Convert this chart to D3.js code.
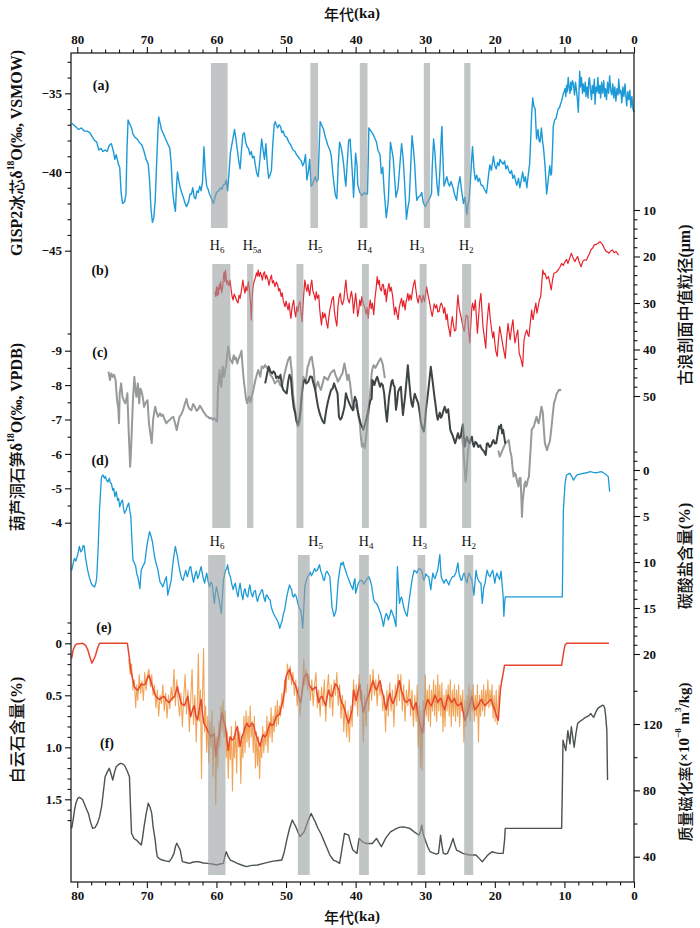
<!DOCTYPE html>
<html>
<head>
<meta charset="utf-8">
<script src="https://cdn.jsdelivr.net/npm/d3@7.9.0/dist/d3.min.js"></script>
<style>
  body { margin: 0; background: #fff; }
  svg text { fill: #111; }
</style>
</head>
<body>
<script>
// ---- data (age in ka, value) ----
const gisp2 = [
[80.8,-36.9],[80.3,-37.1],[79.8,-37.3],[79.4,-37.2],[79.0,-37.4],[78.6,-37.4],[78.2,-37.5],[77.8,-37.8],[77.5,-38.0],[77.2,-38.1],[76.9,-38.6],[76.6,-38.5],[76.3,-38.7],[76.0,-38.6],[75.7,-38.7],[75.4,-38.3],[75.1,-38.2],[74.8,-38.7],[74.6,-39.2],[74.4,-38.9],[74.1,-39.5],[73.9,-39.7],[73.7,-41.3],[73.5,-42.0],[73.2,-41.9],[73.0,-41.4],[72.85,-38.5],[72.7,-36.7],[72.5,-36.9],[72.2,-37.2],[72.0,-37.6],[71.7,-37.8],[71.4,-37.9],[71.1,-38.1],[70.7,-38.3],[70.4,-38.7],[70.1,-39.2],[69.8,-39.5],[69.6,-40.6],[69.4,-42.4],[69.2,-43.2],[69.0,-42.9],[68.8,-41.8],[68.6,-39.5],[68.4,-37.3],[68.3,-36.5],[68.1,-36.9],[67.9,-37.3],[67.6,-37.6],[67.3,-37.9],[67.0,-38.2],[66.7,-38.5],[66.5,-39.5],[66.3,-41.2],[66.1,-42.0],[65.9,-42.5],[65.7,-40.6],[65.6,-40.0],[65.4,-40.6],[65.2,-41.0],[65.0,-41.3],[64.7,-41.7],[64.5,-42.0],[64.3,-42.2],[64.0,-41.9],[63.8,-41.4],[63.6,-41.4],[63.4,-41.0],[63.2,-41.6],[63.0,-41.7],[62.8,-41.2],[62.6,-41.3],[62.4,-40.9],[62.2,-41.2],[62.0,-40.6],[61.8,-38.4],[61.6,-40.0],[61.4,-40.9],[61.2,-41.1],[61.0,-41.4],[60.7,-41.7],[60.45,-42.0],[60.2,-41.6],[60.0,-41.3],[59.7,-41.2],[59.4,-41.0],[59.2,-41.1],[59.0,-40.8],[58.8,-40.8],[58.6,-40.5],[58.4,-41.2],[58.2,-40.1],[58.0,-38.8],[57.8,-38.3],[57.6,-37.8],[57.4,-37.3],[57.2,-37.9],[57.0,-38.6],[56.8,-39.3],[56.6,-39.8],[56.4,-38.6],[56.2,-37.6],[56.0,-37.5],[55.8,-38.1],[55.6,-38.4],[55.4,-38.5],[55.2,-38.9],[55.0,-38.7],[54.8,-39.1],[54.6,-39.0],[54.4,-39.6],[54.2,-40.1],[54.0,-40.3],[53.8,-39.4],[53.6,-38.4],[53.5,-37.9],[53.3,-38.6],[53.1,-39.2],[52.9,-38.2],[52.7,-39.5],[52.5,-40.4],[52.3,-40.2],[52.1,-39.9],[51.9,-38.2],[51.7,-37.0],[51.55,-36.8],[51.4,-37.0],[51.2,-37.2],[51.0,-37.0],[50.8,-37.1],[50.6,-37.5],[50.4,-37.4],[50.2,-37.7],[49.9,-37.8],[49.6,-38.1],[49.3,-38.3],[49.0,-38.6],[48.7,-38.7],[48.5,-38.9],[48.3,-39.0],[48.0,-39.2],[47.8,-39.3],[47.6,-39.6],[47.4,-39.4],[47.2,-38.9],[47.0,-40.5],[46.8,-40.0],[46.6,-39.2],[46.4,-40.9],[46.2,-40.8],[46.0,-40.5],[45.8,-40.3],[45.6,-40.6],[45.4,-40.5],[45.2,-38.0],[45.1,-36.8],[44.9,-37.0],[44.6,-37.3],[44.4,-37.7],[44.2,-38.0],[44.0,-38.3],[43.7,-38.6],[43.5,-39.0],[43.3,-40.0],[43.1,-40.8],[42.9,-41.5],[42.7,-41.7],[42.5,-39.5],[42.3,-38.1],[42.1,-38.4],[41.9,-38.9],[41.7,-39.6],[41.5,-40.6],[41.4,-40.9],[41.2,-39.4],[41.0,-38.0],[40.8,-37.9],[40.6,-39.2],[40.4,-40.6],[40.3,-41.6],[40.1,-39.8],[40.0,-38.8],[39.8,-39.6],[39.7,-40.8],[39.4,-41.3],[39.1,-41.5],[38.9,-41.4],[38.7,-41.3],[38.5,-41.4],[38.3,-41.4],[38.2,-39.5],[38.1,-37.2],[37.8,-37.4],[37.5,-37.6],[37.2,-37.9],[37.0,-38.1],[36.8,-38.6],[36.5,-38.9],[36.3,-40.1],[36.1,-39.7],[35.9,-41.2],[35.7,-42.3],[35.6,-42.9],[35.4,-42.2],[35.3,-41.8],[35.1,-39.5],[35.0,-38.1],[34.8,-38.6],[34.6,-39.1],[34.4,-40.4],[34.2,-41.6],[34.0,-41.2],[33.9,-41.0],[33.6,-39.3],[33.4,-38.2],[33.2,-39.0],[33.0,-40.4],[32.8,-42.1],[32.7,-43.0],[32.5,-42.3],[32.3,-41.8],[32.1,-39.8],[31.9,-37.7],[31.7,-38.5],[31.5,-39.6],[31.3,-41.3],[31.2,-41.8],[31.0,-41.6],[30.7,-41.5],[30.5,-41.3],[30.3,-41.9],[30.0,-42.2],[29.8,-42.0],[29.5,-41.8],[29.3,-41.6],[29.1,-41.4],[29.0,-39.8],[28.8,-37.9],[28.6,-38.8],[28.5,-39.6],[28.3,-40.8],[28.1,-41.5],[27.9,-40.0],[27.7,-37.8],[27.6,-37.1],[27.5,-38.6],[27.3,-40.9],[27.1,-40.6],[26.9,-40.3],[26.7,-40.7],[26.5,-40.9],[26.3,-40.6],[26.0,-41.0],[25.8,-41.4],[25.5,-41.8],[25.3,-41.0],[25.0,-40.3],[24.8,-41.1],[24.5,-42.0],[24.3,-41.6],[24.0,-42.7],[23.85,-42.0],[23.7,-41.8],[23.5,-40.5],[23.3,-39.0],[23.2,-38.4],[23.0,-39.8],[22.8,-40.5],[22.6,-40.2],[22.4,-40.6],[22.2,-40.4],[22.0,-40.8],[21.7,-40.9],[21.5,-41.1],[21.2,-41.35],[21.0,-40.6],[20.8,-39.8],[20.7,-39.55],[20.5,-39.9],[20.3,-39.3],[20.2,-39.0],[20.0,-39.6],[19.8,-39.8],[19.6,-39.4],[19.4,-39.6],[19.25,-39.2],[19.0,-39.4],[18.8,-39.5],[18.6,-39.3],[18.4,-39.8],[18.2,-39.6],[18.0,-39.9],[17.8,-40.1],[17.6,-39.9],[17.4,-40.4],[17.2,-40.2],[17.0,-40.6],[16.85,-40.85],[16.6,-40.4],[16.4,-41.0],[16.2,-40.5],[16.0,-40.0],[15.8,-40.6],[15.6,-40.3],[15.4,-41.0],[15.2,-40.2],[15.0,-39.5],[14.85,-38.0],[14.7,-36.3],[14.55,-35.3],[14.4,-35.8],[14.2,-36.0],[14.1,-37.0],[14.0,-37.9],[13.8,-37.3],[13.65,-38.0],[13.5,-38.1],[13.3,-37.2],[13.15,-38.0],[13.0,-38.5],[12.8,-39.5],[12.65,-40.6],[12.55,-41.4],[12.4,-40.8],[12.3,-40.4],[12.1,-39.6],[11.95,-40.2],[11.85,-40.1],[11.7,-38.5],[11.6,-37.1],[11.4,-36.7],[11.2,-36.6],[11.0,-36.2],[10.9,-36.0],[10.7,-35.9],[10.5,-35.6],[10.4,-35.5],[10.2,-35.1],[10.05,-34.9],[9.9,-34.7],[9.8,-35.2],[9.7,-34.5],[9.6,-34.9],[9.45,-34.0],[9.35,-34.6],[9.2,-35.0],[9.1,-34.3],[9.0,-34.8],[8.85,-34.2],[8.7,-34.4],[8.55,-35.1],[8.4,-34.3],[8.3,-34.7],[8.15,-35.3],[8.0,-36.2],[7.9,-34.9],[7.8,-33.6],[7.7,-34.6],[7.55,-34.0],[7.4,-35.0],[7.3,-34.4],[7.15,-34.9],[7.0,-34.3],[6.9,-35.2],[6.75,-34.6],[6.6,-35.3],[6.5,-34.2],[6.4,-34.0],[6.25,-34.8],[6.1,-35.4],[6.0,-34.5],[5.85,-35.0],[5.7,-34.1],[5.6,-35.7],[5.45,-34.6],[5.3,-34.9],[5.2,-34.0],[5.05,-35.0],[4.9,-34.5],[4.8,-35.3],[4.65,-34.3],[4.5,-35.0],[4.35,-34.2],[4.2,-35.2],[4.1,-34.7],[3.95,-35.4],[3.8,-34.3],[3.65,-35.0],[3.5,-33.9],[3.35,-34.8],[3.2,-35.1],[3.05,-34.4],[2.9,-35.3],[2.75,-34.6],[2.6,-35.5],[2.45,-34.7],[2.3,-35.1],[2.2,-34.1],[2.05,-35.0],[1.9,-34.8],[1.75,-35.6],[1.6,-34.6],[1.45,-35.2],[1.3,-34.4],[1.2,-35.0],[1.05,-35.8],[0.9,-34.9],[0.75,-35.4],[0.6,-34.8],[0.45,-35.9],[0.3,-35.2],[0.15,-36.0],[0.0,-36.2]
];

const gulang = [
[60.2,27.5],[60.1,28.6],[60.0,26.5],[59.9,28.4],[59.8,26.7],[59.7,28.2],[59.6,26.0],[59.5,27.0],[59.4,25.4],[59.25,27.8],[59.1,26.5],[59.0,24.5],[58.9,23.3],[58.8,25.4],[58.7,23.0],[58.6,24.6],[58.5,26.0],[58.4,25.2],[58.2,26.3],[58.05,25.05],[57.9,27.0],[57.75,28.6],[57.6,29.35],[57.45,28.1],[57.3,28.6],[57.1,29.5],[56.9,30.0],[56.75,28.3],[56.6,29.0],[56.4,27.2],[56.2,25.05],[56.05,26.8],[55.9,27.9],[55.75,26.4],[55.6,27.4],[55.4,25.4],[55.25,27.5],[55.1,30.0],[55.0,33.65],[54.9,29.8],[54.8,27.3],[54.7,26.1],[54.55,25.2],[54.4,24.6],[54.25,23.5],[54.1,24.2],[54.0,22.9],[53.85,24.3],[53.7,23.4],[53.55,24.0],[53.4,25.1],[53.25,23.7],[53.1,23.3],[52.95,24.8],[52.8,24.0],[52.6,25.05],[52.45,26.2],[52.3,25.0],[52.1,24.0],[51.95,25.7],[51.8,25.2],[51.6,26.5],[51.4,25.5],[51.2,26.1],[51.05,27.4],[50.9,26.9],[50.7,28.6],[50.55,27.8],[50.4,29.5],[50.15,30.8],[50.0,29.6],[49.85,30.6],[49.7,31.5],[49.55,30.0],[49.4,32.2],[49.3,33.3],[49.1,30.6],[48.9,29.4],[48.75,31.8],[48.6,33.0],[48.45,30.8],[48.3,31.9],[48.15,30.2],[48.0,29.7],[47.85,32.0],[47.7,34.0],[47.5,29.0],[47.3,25.05],[47.15,26.6],[47.0,27.5],[46.85,26.0],[46.75,27.2],[46.6,28.4],[46.45,26.3],[46.3,25.05],[46.15,27.4],[46.0,28.0],[45.8,29.35],[45.65,27.6],[45.5,29.0],[45.3,28.3],[45.15,31.5],[45.05,33.0],[44.9,34.7],[44.75,32.0],[44.6,33.2],[44.4,32.2],[44.2,34.0],[44.0,35.4],[43.85,33.0],[43.7,31.5],[43.55,30.4],[43.4,29.2],[43.2,28.6],[43.05,31.8],[42.9,33.4],[42.7,35.0],[42.55,31.0],[42.4,28.9],[42.2,27.9],[42.05,29.8],[41.9,30.4],[41.7,29.35],[41.55,27.0],[41.4,25.05],[41.25,27.8],[41.1,29.2],[40.9,30.0],[40.75,28.6],[40.6,27.5],[40.45,29.0],[40.3,32.2],[40.15,30.0],[40.0,27.9],[39.85,30.2],[39.7,32.9],[39.55,31.5],[39.4,29.35],[39.25,30.6],[39.1,28.6],[38.9,30.2],[38.7,30.8],[38.5,32.4],[38.35,31.0],[38.2,33.3],[38.05,31.0],[37.9,29.35],[37.75,31.2],[37.6,30.0],[37.4,32.5],[37.2,28.7],[37.05,26.8],[36.9,24.3],[36.75,26.0],[36.6,25.1],[36.5,26.8],[36.3,27.4],[36.15,26.0],[36.0,26.1],[35.85,28.2],[35.7,27.0],[35.6,29.7],[35.45,28.0],[35.3,26.4],[35.2,25.8],[35.05,27.5],[34.9,26.6],[34.7,28.3],[34.55,30.4],[34.4,32.5],[34.25,30.9],[34.1,32.0],[33.9,33.6],[33.75,31.2],[33.6,30.1],[33.4,29.0],[33.25,30.8],[33.1,29.5],[32.9,31.5],[32.75,29.7],[32.6,28.8],[32.5,27.9],[32.35,29.5],[32.2,28.2],[32.0,29.35],[31.85,27.5],[31.7,26.2],[31.5,25.05],[31.35,27.0],[31.2,28.8],[31.0,30.0],[30.85,28.4],[30.7,28.6],[30.5,29.9],[30.3,28.3],[30.1,29.7],[29.95,28.0],[29.8,26.5],[29.6,28.3],[29.4,29.7],[29.2,31.4],[29.0,32.9],[28.85,31.6],[28.7,30.2],[28.5,31.1],[28.35,30.4],[28.2,31.9],[28.0,31.8],[27.85,30.6],[27.7,30.0],[27.5,30.8],[27.35,32.2],[27.2,31.0],[27.0,33.6],[26.85,32.4],[26.7,34.8],[26.55,35.9],[26.4,37.2],[26.25,34.5],[26.1,32.9],[25.95,34.6],[25.8,36.0],[25.6,35.8],[25.45,31.4],[25.3,28.3],[25.15,30.7],[25.0,32.0],[24.8,33.3],[24.6,35.0],[24.4,36.1],[24.25,34.0],[24.1,32.6],[23.9,32.9],[23.75,36.0],[23.6,38.6],[23.45,34.5],[23.3,31.0],[23.2,30.0],[23.0,31.6],[22.8,29.35],[22.65,33.0],[22.5,36.5],[22.35,33.4],[22.2,30.2],[22.0,27.9],[21.85,31.5],[21.7,35.1],[21.5,37.4],[21.3,39.7],[21.15,35.0],[21.0,32.2],[20.85,30.0],[20.65,33.5],[20.45,35.8],[20.3,37.5],[20.15,36.2],[20.0,38.6],[19.85,40.4],[19.65,41.5],[19.5,38.3],[19.3,35.1],[19.1,36.8],[18.9,38.6],[18.7,40.3],[18.5,41.9],[18.3,37.6],[18.1,34.4],[17.95,36.2],[17.8,37.9],[17.6,35.4],[17.4,33.6],[17.25,36.4],[17.1,38.6],[16.9,37.0],[16.7,35.8],[16.6,38.4],[16.5,40.8],[16.25,42.0],[16.0,43.7],[15.9,40.5],[15.8,37.9],[15.6,36.6],[15.4,35.8],[15.25,36.8],[15.1,37.2],[14.9,34.2],[14.7,31.5],[14.6,32.8],[14.5,33.6],[14.3,31.6],[14.1,30.0],[13.95,32.2],[13.8,31.1],[13.6,29.4],[13.4,28.6],[13.25,25.6],[13.1,22.9],[12.95,23.8],[12.8,23.6],[12.55,24.8],[12.3,24.3],[12.1,25.6],[11.9,27.2],[11.7,25.0],[11.5,23.6],[11.2,23.4],[10.9,22.9],[10.65,22.3],[10.4,21.5],[10.15,21.9],[9.9,21.1],[9.7,20.6],[9.5,21.5],[9.25,20.4],[9.0,19.3],[8.75,20.3],[8.5,21.1],[8.3,20.5],[8.1,20.0],[7.85,21.3],[7.6,22.2],[7.35,21.0],[7.1,20.7],[6.85,20.8],[6.6,20.0],[6.4,19.4],[6.2,18.6],[5.95,18.2],[5.7,17.5],[5.45,17.4],[5.2,17.2],[4.9,16.8],[4.7,17.1],[4.5,17.5],[4.25,18.3],[4.0,18.9],[3.8,19.0],[3.6,19.3],[3.35,18.8],[3.1,18.6],[2.85,19.2],[2.6,18.9],[2.4,19.3],[2.2,19.7]
];

// Hulu cave stalagmite, lighter record (null = gap)
const huluLight = [
[75.5,-8.39],[75.3,-8.15],[75.1,-8.34],[74.9,-8.24],[74.7,-8.3],[74.5,-8.15],[74.3,-7.6],[74.1,-7.3],[74.0,-6.89],[73.9,-7.76],[73.7,-8.05],[73.5,-7.66],[73.3,-7.55],[73.1,-7.47],[72.95,-7.6],[72.8,-7.76],[72.6,-6.6],[72.4,-5.63],[72.3,-6.0],[72.2,-6.5],[72.0,-7.56],[71.8,-8.24],[71.65,-7.9],[71.5,-7.66],[71.3,-8.05],[71.1,-7.47],[70.95,-7.9],[70.8,-7.85],[70.6,-7.66],[70.4,-7.37],[70.15,-7.5],[69.9,-7.56],[69.7,-6.89],[69.5,-6.6],[69.3,-6.31],[69.1,-6.99],[68.95,-7.2],[68.8,-7.37],[68.6,-7.2],[68.4,-7.08],[68.1,-7.18],[67.9,-7.1],[67.7,-7.14],[67.45,-7.0],[67.2,-6.89],[66.95,-6.95],[66.7,-6.99],[66.45,-7.05],[66.2,-7.08],[65.95,-6.9],[65.7,-6.69],[65.5,-6.9],[65.3,-7.08],[65.05,-7.15],[64.8,-7.27],[64.55,-7.45],[64.3,-7.6],[64.1,-7.4],[63.85,-7.3],[63.6,-7.27],[63.35,-7.45],[63.1,-7.37],[62.85,-7.25],[62.6,-7.3],[62.4,-7.4],[62.2,-7.35],[61.95,-7.25],[61.7,-7.18],[61.45,-7.1],[61.2,-7.08],[61.0,-7.03],[60.8,-7.05],[60.55,-7.0],[60.3,-7.04],[60.1,-6.98],[59.9,-6.94],[59.8,-7.76],[59.7,-8.1],[59.55,-8.44],[59.45,-8.1],[59.3,-7.95],[59.2,-8.3],[59.1,-8.54],[59.0,-8.4],[58.9,-8.24],[58.75,-8.45],[58.6,-8.58],[58.45,-8.9],[58.3,-9.12],[58.15,-8.9],[58.0,-8.73],[57.85,-8.7],[57.7,-8.63],[57.6,-8.8],[57.5,-8.87],[57.35,-8.75],[57.2,-8.8],[57.1,-8.7],[57.0,-8.63],[56.85,-8.75],[56.7,-8.82],[56.55,-8.9],[56.4,-9.0],[56.3,-8.7],[56.2,-8.44],[56.05,-8.1],[55.9,-7.86],[55.75,-7.6],[55.6,-7.47],[55.45,-7.6],[55.3,-7.66],[55.2,-7.55],[55.1,-7.5],[54.9,-7.7],[54.7,-7.86],[54.55,-8.0],[54.4,-8.15],[54.2,-8.3],[54.0,-8.44],[53.85,-8.35],[53.7,-8.24],[53.5,-8.54],[53.25,-8.5],[53.0,-8.58],[52.75,-8.5],[52.5,-8.44],[52.25,-8.3],[52.0,-8.24],[51.8,-8.15],[51.6,-8.05],[51.35,-8.1],[51.1,-8.15],[50.85,-8.0],[50.6,-7.95],[50.4,-8.15],[50.2,-8.34],[49.95,-8.55],[49.7,-8.73],[49.55,-8.8],[49.4,-8.82],[49.3,-8.6],[49.2,-8.44],[49.1,-8.1],[49.0,-7.76],[48.85,-7.5],[48.7,-7.27],[48.5,-7.0],[48.3,-6.79],[48.15,-6.85],[48.0,-6.99],[47.9,-7.3],[47.8,-7.56],[47.65,-7.9],[47.5,-8.24],[47.35,-8.15],[47.2,-8.05],[47.05,-8.3],[46.9,-8.54],[46.75,-8.6],[46.6,-8.73],[46.45,-8.8],[46.3,-8.82],[46.15,-8.6],[46.0,-8.44],[45.9,-8.1],[45.8,-7.86],[45.6,-8.0],[45.4,-8.1],[45.2,-7.95],[45.0,-7.86],[44.75,-8.05],[44.5,-8.24],[44.25,-8.2],[44.0,-8.15],[43.8,-8.25],[43.6,-8.34],[43.35,-8.4],[43.1,-8.44],[42.9,-8.3],[42.7,-8.2],[42.55,-8.1],[42.4,-8.15],[42.15,-8.25],[41.9,-8.34],[41.75,-8.5],[41.6,-8.63],[41.4,-8.4],[41.2,-8.15],[41.0,-8.3],[40.8,-8.05],[40.55,-7.6],[40.3,-7.28],[40.05,-7.4],[39.8,-7.47],[39.6,-7.1],[39.4,-6.89],[39.25,-6.5],[39.1,-6.21],[38.9,-6.3],[38.7,-6.17],[38.55,-6.4],[38.4,-6.7],[38.25,-7.0],[38.1,-7.28],[37.9,-7.8],[37.7,-8.34],[37.55,-8.5],[37.4,-8.58],[37.15,-8.5],[36.9,-8.6],[36.65,-8.7],[36.4,-8.78],[36.25,-8.7],[36.1,-8.6],[35.95,-8.4],[35.8,-8.2],
[35.7,null],
[24.9,-6.6],[24.7,-6.5],[24.5,-6.1],[24.35,-5.6],[24.2,-5.19],[24.05,-5.5],[23.9,-6.0],[23.7,-6.35],
[23.6,null],
[19.5,-6.1],[19.3,-5.92],[19.1,-6.0],[18.9,-6.11],[18.7,-6.2],[18.5,-6.3],[18.25,-6.35],[18.0,-6.4],[17.8,-6.1],[17.6,-5.92],[17.45,-5.6],[17.3,-5.34],[17.15,-5.45],[17.0,-5.4],[16.8,-5.2],[16.6,-5.05],[16.45,-5.3],[16.3,-5.3],[16.2,-4.8],[16.1,-4.17],[16.0,-4.6],[15.9,-4.8],[15.75,-5.1],[15.6,-5.2],[15.5,-5.05],[15.4,-5.1],[15.25,-5.25],[15.1,-5.34],[14.9,-6.0],[14.7,-6.7],[14.55,-6.75],[14.4,-6.79],[14.2,-6.95],[14.0,-7.08],[13.85,-6.95],[13.7,-6.89],[13.5,-7.1],[13.3,-7.37],[13.1,-7.2],[12.95,-6.7],[12.8,-6.31],[12.65,-6.2],[12.5,-6.11],[12.3,-6.25],[12.1,-6.36],[11.95,-6.6],[11.8,-6.89],[11.65,-7.2],[11.5,-7.47],[11.3,-7.6],[11.1,-7.76],[10.95,-7.8],[10.8,-7.86],[10.65,-7.85],[10.5,-7.88]
];

// Hulu cave stalagmite, darker record
const huluDark = [
[53.0,-8.05],[52.75,-8.3],[52.5,-8.54],[52.25,-8.4],[52.0,-8.34],[51.8,-8.4],[51.6,-8.35],[51.4,-8.2],[51.2,-8.25],[51.0,-8.2],[50.8,-8.3],[50.6,-8.0],[50.4,-7.86],[50.15,-7.8],[49.9,-7.76],[49.7,-8.1],[49.5,-8.3],[49.3,-8.2],[49.1,-7.7],[48.9,-7.35],[48.7,-7.2],[48.5,-6.95],[48.3,-6.85],[48.1,-7.0],[47.9,-7.3],[47.7,-7.8],[47.5,-8.1],[47.3,-8.15],[47.05,-8.05],[46.8,-8.1],[46.55,-8.25],[46.3,-8.24],[46.05,-8.05],[45.8,-7.86],[45.6,-7.6],[45.4,-7.37],[45.2,-7.2],[45.0,-7.08],[44.75,-6.95],[44.5,-6.89],[44.35,-7.1],[44.2,-7.3],[44.0,-7.5],[43.8,-7.66],[43.55,-7.85],[43.3,-7.9],[43.1,-8.05],[42.85,-7.9],[42.6,-7.76],[42.4,-7.08],[42.2,-7.0],[42.0,-7.05],[41.8,-7.2],[41.6,-7.37],[41.4,-7.76],[41.15,-7.6],[40.9,-7.47],[40.65,-7.35],[40.4,-7.27],[40.25,-7.5],[40.1,-7.66],[39.9,-7.55],[39.75,-7.3],[39.55,-7.1],[39.3,-6.89],[39.1,-6.8],[38.9,-6.7],[38.75,-6.8],[38.6,-6.9],[38.35,-7.1],[38.1,-7.37],[37.9,-7.55],[37.7,-7.6],[37.6,-8.15],[37.45,-8.1],[37.3,-8.0],[37.1,-8.15],[36.9,-8.24],[36.7,-8.1],[36.5,-7.95],[36.3,-8.05],[36.1,-8.0],[35.9,-7.76],[35.7,-7.3],[35.5,-6.94],[35.35,-7.3],[35.2,-7.66],[35.0,-7.9],[34.85,-8.1],[34.7,-8.15],[34.55,-8.0],[34.4,-7.95],[34.2,-7.28],[34.05,-7.5],[33.9,-7.8],[33.7,-7.9],[33.5,-7.95],[33.35,-7.5],[33.2,-7.13],[33.05,-7.4],[32.9,-7.66],[32.7,-8.1],[32.5,-8.58],[32.3,-8.1],[32.1,-7.66],[31.95,-7.45],[31.8,-7.37],[31.65,-7.6],[31.5,-7.75],[31.25,-7.6],[31.0,-7.47],[30.8,-7.2],[30.6,-6.89],[30.4,-6.75],[30.2,-6.65],[30.05,-6.9],[29.9,-7.28],[29.7,-7.6],[29.5,-7.95],[29.35,-8.25],[29.2,-8.53],[29.05,-8.3],[28.9,-8.05],[28.7,-7.7],[28.5,-7.4],[28.35,-7.15],[28.2,-6.99],[28.05,-7.1],[27.9,-7.2],[27.75,-7.05],[27.6,-7.1],[27.4,-7.25],[27.2,-7.37],[26.95,-7.2],[26.7,-7.3],[26.55,-7.0],[26.4,-6.7],[26.2,-6.6],[26.0,-6.5],[25.85,-6.4],[25.7,-6.31],[25.5,-6.45],[25.3,-6.6],[25.1,-6.45],[24.9,-6.5],[24.75,-6.7],[24.6,-6.86],[24.45,-6.5],[24.3,-6.21],[24.15,-6.4],[24.0,-6.5],[23.8,-6.35],[23.6,-6.31],[23.45,-6.45],[23.3,-6.5],[23.15,-6.3],[23.0,-6.21],[22.8,-6.35],[22.6,-6.31],[22.35,-6.2],[22.1,-6.25],[21.9,-6.15],[21.7,-6.11],[21.5,-6.05],[21.3,-5.97],[21.15,-6.3],[21.0,-6.31],[20.75,-6.2],[20.5,-6.25],[20.35,-6.35],[20.2,-6.4],[20.0,-6.3],[19.8,-6.31],[19.6,-6.55],[19.4,-6.8],[19.25,-6.75],[19.1,-6.85],[18.95,-6.6],[18.8,-6.7],[18.65,-6.5],[18.5,-6.3]
];

const carbonate = [
[80.8,10.9],[80.6,10.2],[80.4,9.6],[80.2,9.9],[79.9,9.1],[79.7,8.3],[79.5,8.9],[79.3,8.7],[79.15,8.2],[79.0,8.3],[78.8,9.6],[78.5,10.9],[78.25,11.7],[78.0,12.3],[77.75,12.6],[77.5,12.7],[77.3,12.2],[77.2,11.6],[77.0,8.5],[76.8,4.35],[76.6,1.6],[76.5,0.72],[76.3,0.54],[76.1,0.9],[75.95,0.7],[75.8,1.1],[75.6,1.3],[75.4,0.9],[75.25,1.4],[75.1,1.45],[74.9,2.2],[74.75,2.0],[74.6,2.9],[74.4,2.35],[74.2,3.3],[74.05,3.1],[73.9,4.0],[73.7,3.5],[73.5,3.26],[73.35,4.2],[73.2,4.7],[73.0,4.4],[72.8,3.9],[72.6,3.6],[72.45,4.4],[72.3,5.1],[72.15,7.5],[72.0,9.8],[71.8,10.1],[71.6,10.5],[71.45,11.3],[71.3,11.6],[71.15,12.2],[71.0,12.9],[70.9,11.8],[70.8,10.9],[70.55,10.4],[70.3,10.1],[70.15,9.2],[70.0,8.3],[69.8,7.4],[69.6,6.7],[69.4,7.2],[69.2,7.8],[69.05,8.6],[68.9,9.4],[68.65,10.2],[68.4,10.9],[68.25,11.6],[68.1,12.2],[67.9,12.4],[67.7,12.7],[67.45,12.1],[67.2,11.6],[67.1,12.4],[67.0,13.6],[66.75,12.8],[66.5,12.0],[66.35,10.8],[66.2,9.8],[66.05,9.0],[65.9,8.3],[65.75,8.9],[65.6,9.4],[65.4,10.4],[65.2,11.2],[65.0,11.8],[64.8,12.0],[64.6,11.4],[64.4,10.9],[64.2,11.6],[64.0,11.1],[63.85,10.6],[63.7,10.5],[63.5,11.4],[63.3,12.2],[63.1,11.5],[62.9,11.0],[62.7,11.8],[62.5,11.4],[62.35,10.9],[62.2,10.5],[61.95,11.6],[61.7,12.3],[61.55,11.7],[61.4,11.2],[61.2,12.1],[61.0,12.7],[60.8,12.2],[60.6,12.4],[60.45,13.5],[60.3,14.5],[60.15,13.4],[60.0,12.7],[59.85,13.2],[59.7,13.8],[59.5,14.6],[59.3,15.6],[59.15,13.8],[59.0,12.0],[58.85,11.4],[58.7,10.9],[58.55,10.8],[58.4,10.3],[58.2,11.2],[58.0,11.6],[57.8,12.4],[57.6,13.0],[57.45,12.6],[57.3,12.3],[57.1,13.2],[56.9,13.8],[56.75,12.9],[56.6,12.3],[56.4,13.4],[56.2,14.1],[56.05,13.2],[55.9,12.9],[55.7,13.6],[55.5,13.8],[55.35,13.0],[55.2,12.5],[55.0,13.4],[54.8,13.8],[54.6,13.2],[54.4,13.1],[54.25,13.9],[54.1,14.3],[53.9,13.7],[53.7,13.4],[53.55,13.1],[53.4,13.0],[53.2,13.8],[53.0,14.3],[52.85,13.6],[52.7,13.6],[52.5,14.0],[52.3,14.1],[52.15,14.8],[52.0,15.2],[51.8,15.6],[51.6,15.9],[51.45,16.1],[51.3,16.3],[51.1,16.6],[50.9,17.2],[50.75,16.8],[50.6,16.5],[50.4,15.7],[50.2,15.2],[50.05,14.5],[49.9,13.8],[49.7,13.1],[49.5,12.5],[49.35,12.8],[49.2,13.0],[49.05,13.7],[48.9,13.8],[48.75,13.5],[48.6,13.6],[48.45,14.0],[48.3,14.5],[48.1,15.0],[47.9,15.2],[47.75,16.0],[47.6,17.2],[47.45,15.0],[47.3,12.7],[47.1,12.0],[46.9,11.6],[46.7,11.4],[46.5,11.1],[46.35,11.5],[46.2,11.3],[46.05,11.0],[45.9,10.7],[45.7,11.0],[45.5,10.9],[45.35,10.6],[45.2,10.3],[45.0,11.0],[44.8,11.4],[44.65,11.9],[44.5,12.0],[44.3,11.2],[44.1,11.0],[43.9,11.3],[43.7,11.6],[43.55,13.2],[43.4,14.9],[43.25,15.4],[43.1,15.9],[42.95,15.6],[42.8,15.2],[42.65,13.6],[42.5,12.0],[42.3,11.0],[42.1,10.1],[41.95,10.3],[41.8,10.0],[41.6,10.6],[41.4,11.0],[41.25,11.4],[41.1,11.7],[40.9,12.1],[40.7,12.5],[40.55,12.7],[40.4,13.0],[40.25,12.2],[40.1,11.8],[40.0,13.4],[39.8,12.8],[39.6,12.3],[39.35,12.0],[39.1,12.0],[38.85,12.4],[38.6,12.1],[38.35,11.8],[38.1,11.6],[37.9,12.0],[37.7,12.6],[37.55,13.4],[37.4,14.1],[37.2,14.4],[37.0,14.5],[36.8,14.8],[36.6,15.2],[36.45,15.5],[36.3,15.9],[36.15,16.4],[36.0,17.0],[35.8,16.1],[35.6,15.6],[35.45,15.8],[35.3,16.3],[35.1,15.8],[34.9,15.2],[34.7,15.6],[34.5,16.0],[34.35,16.5],[34.2,17.0],[34.1,13.8],[34.0,10.5],[33.85,12.6],[33.7,14.5],[33.55,14.0],[33.4,13.8],[33.2,14.5],[33.0,15.2],[32.8,15.6],[32.6,15.9],[32.45,15.0],[32.3,14.1],[32.1,13.0],[31.9,12.0],[31.75,11.4],[31.6,10.9],[31.4,11.0],[31.2,11.2],[31.05,10.9],[30.9,10.7],[30.7,10.8],[30.5,10.9],[30.35,11.5],[30.2,12.0],[30.05,11.7],[29.9,11.3],[29.7,11.5],[29.5,11.6],[29.35,12.3],[29.2,13.0],[29.05,12.0],[28.9,11.2],[28.75,11.6],[28.6,11.8],[28.4,11.3],[28.2,10.9],[28.05,10.0],[27.9,9.2],[27.8,10.5],[27.7,11.6],[27.5,12.0],[27.3,12.3],[27.15,12.0],[27.0,11.9],[26.8,12.2],[26.6,12.5],[26.45,12.1],[26.3,11.9],[26.1,11.6],[25.9,11.6],[25.75,11.4],[25.6,11.2],[25.45,10.6],[25.3,10.1],[25.15,11.2],[25.0,11.6],[24.85,12.0],[24.7,11.9],[24.55,11.4],[24.4,11.2],[24.2,11.8],[24.0,12.3],[23.85,11.6],[23.7,11.2],[23.5,11.6],[23.3,11.9],[23.15,12.8],[23.0,13.6],[22.85,12.2],[22.7,10.9],[22.55,11.6],[22.4,11.9],[22.2,12.2],[22.0,12.3],[21.9,13.4],[21.8,14.5],[21.6,12.8],[21.4,12.3],[21.25,11.5],[21.1,10.9],[20.9,11.4],[20.7,11.6],[20.5,11.2],[20.3,10.9],[20.15,11.6],[20.0,12.3],[19.85,11.6],[19.7,11.2],[19.5,11.6],[19.3,11.9],[19.2,11.4],[19.1,11.0],[18.95,12.4],[18.8,13.8],[18.75,15.0],[18.7,15.9],[18.6,14.6],[18.5,13.8],[10.3,13.8],[10.15,4.35],[9.9,1.45],[9.7,0.54],[9.45,0.45],[9.2,0.36],[8.95,0.7],[8.7,1.1],[8.45,0.8],[8.2,0.54],[7.75,0.45],[7.3,0.36],[6.8,0.3],[6.3,0.18],[5.85,0.25],[5.4,0.3],[5.05,0.22],[4.7,0.18],[4.4,0.3],[4.1,0.43],[3.7,0.72],[3.6,1.5],[3.5,2.35]
];

const dolomiteRaw = [
[72.6,0.15],[72.4,0.3],[72.2,0.2],[72.0,0.45],[71.8,0.35],[71.6,0.62],[71.45,0.4],[71.3,0.55],[71.1,0.3],[70.9,0.48],[70.7,0.36],[70.5,0.55],[70.3,0.28],[70.1,0.45],[69.9,0.3],[69.7,0.25],[69.5,0.42],[69.3,0.3],[69.1,0.5],[68.9,0.4],[68.7,0.62],[68.5,0.45],[68.3,0.7],[68.1,0.5],[67.9,0.58],[67.7,0.4],[67.5,0.65],[67.3,0.48],[67.1,0.72],[66.9,0.5],[66.7,0.63],[66.5,0.42],[66.3,0.55],[66.1,0.25],[65.9,0.6],[65.7,0.35],[65.5,0.55],[65.3,0.7],[65.1,0.48],[64.9,0.8],[64.7,0.52],[64.5,0.3],[64.3,0.68],[64.1,0.45],[63.9,0.85],[63.7,0.55],[63.5,0.25],[63.3,0.78],[63.1,0.5],[62.9,0.95],[62.75,0.6],[62.6,0.1],[62.45,0.75],[62.3,0.45],[62.15,1.3],[62.0,0.5],[61.85,0.05],[61.7,0.85],[61.55,0.6],[61.4,1.05],[61.25,0.7],[61.1,1.15],[60.95,0.75],[60.8,1.0],[60.65,0.65],[60.5,1.28],[60.35,0.8],[60.2,1.02],[60.1,1.55],[59.95,0.9],[59.8,1.2],[59.65,0.75],[59.5,1.0],[59.35,0.6],[59.2,0.85],[59.05,0.55],[58.9,0.9],[58.75,0.65],[58.6,1.1],[58.45,0.85],[58.3,1.3],[58.15,0.9],[58.0,1.12],[57.85,0.8],[57.7,1.42],[57.55,0.9],[57.4,1.1],[57.25,0.75],[57.1,1.25],[56.95,0.8],[56.8,1.0],[56.65,0.85],[56.5,1.35],[56.35,0.9],[56.2,1.1],[56.05,0.7],[55.9,1.05],[55.75,0.65],[55.6,0.95],[55.45,0.7],[55.3,1.0],[55.15,0.6],[55.0,0.9],[54.85,0.75],[54.7,1.05],[54.55,0.7],[54.4,1.2],[54.25,0.85],[54.1,1.18],[53.95,0.9],[53.8,1.3],[53.65,0.95],[53.5,1.1],[53.35,0.8],[53.2,1.05],[53.05,0.85],[52.9,0.98],[52.75,0.7],[52.6,1.05],[52.45,0.75],[52.3,0.9],[52.15,0.62],[52.0,0.95],[51.85,0.7],[51.7,0.85],[51.55,0.6],[51.4,0.8],[51.25,0.55],[51.1,0.78],[50.95,0.6],[50.8,0.7],[50.6,0.48],[50.4,0.62],[50.2,0.35],[50.0,0.48],[49.8,0.2],[49.6,0.35],[49.4,0.22],[49.2,0.4],[49.0,0.28],[48.8,0.5],[48.6,0.35],[48.4,0.6],[48.2,0.42],[48.0,0.7],[47.8,0.5],[47.6,0.38],[47.45,0.15],[47.3,0.4],[47.1,0.25],[46.9,0.45],[46.7,0.3],[46.5,0.55],[46.3,0.35],[46.1,0.6],[45.9,0.4],[45.7,0.28],[45.5,0.62],[45.3,0.45],[45.1,0.7],[44.9,0.42],[44.7,0.6],[44.5,0.35],[44.3,0.75],[44.1,0.45],[43.9,0.3],[43.7,0.62],[43.5,0.4],[43.3,0.7],[43.1,0.35],[42.9,0.5],[42.7,0.28],[42.5,0.6],[42.3,0.4],[42.1,0.72],[41.9,0.5],[41.7,0.85],[41.5,0.55],[41.3,0.9],[41.1,0.65],[40.9,0.95],[40.7,0.6],[40.5,0.8],[40.3,0.35],[40.1,0.6],[39.9,0.4],[39.7,0.7],[39.5,0.3],[39.3,0.55],[39.1,0.45],[38.9,0.95],[38.7,0.5],[38.5,0.8],[38.3,0.4],[38.1,0.65],[37.9,0.3],[37.7,0.55],[37.5,0.25],[37.3,0.5],[37.1,0.35],[36.9,0.6],[36.7,0.3],[36.5,0.5],[36.3,0.4],[36.1,0.65],[35.9,0.5],[35.7,0.85],[35.5,0.45],[35.3,0.7],[35.1,0.38],[34.9,0.65],[34.7,0.45],[34.5,0.8],[34.3,0.4],[34.1,0.6],[33.9,0.3],[33.7,0.55],[33.5,0.3],[33.3,0.65],[33.1,0.4],[32.9,0.75],[32.7,0.45],[32.5,0.6],[32.3,0.35],[32.1,0.7],[31.9,0.45],[31.7,0.8],[31.5,0.5],[31.3,0.75],[31.15,0.4],[31.0,1.0],[30.85,0.6],[30.7,1.2],[30.6,0.65],[30.45,1.22],[30.3,0.55],[30.15,0.85],[30.0,0.3],[29.85,0.7],[29.7,0.45],[29.55,0.75],[29.4,0.4],[29.25,0.8],[29.1,0.45],[28.95,0.65],[28.8,0.35],[28.65,0.7],[28.5,0.4],[28.35,0.75],[28.2,0.3],[28.05,0.65],[27.9,0.4],[27.75,0.7],[27.6,0.38],[27.45,0.85],[27.3,0.5],[27.15,0.8],[27.0,0.45],[26.85,0.65],[26.7,0.4],[26.55,0.7],[26.4,0.35],[26.25,0.8],[26.1,0.45],[25.95,0.7],[25.8,0.4],[25.65,0.75],[25.5,0.45],[25.35,0.7],[25.2,0.4],[25.05,0.8],[24.9,0.5],[24.75,0.65],[24.6,0.45],[24.45,0.95],[24.3,0.55],[24.15,0.8],[24.0,0.5],[23.85,0.7],[23.7,0.4],[23.55,0.75],[23.4,0.45],[23.25,0.65],[23.1,0.4],[22.95,0.75],[22.8,0.5],[22.65,0.7],[22.5,0.4],[22.35,0.95],[22.2,0.5],[22.05,0.7],[21.9,0.45],[21.75,0.65],[21.6,0.4],[21.45,0.7],[21.3,0.45],[21.15,0.6],[21.0,0.35],[20.85,0.62],[20.7,0.45],[20.55,0.6],[20.4,0.4],[20.25,0.72],[20.1,0.5],[19.95,0.75],[19.8,0.45],[19.65,0.78],[19.5,0.55],[19.35,0.4]
];

const dolomiteSmooth = [
[80.8,0.144],[80.6,0.064],[80.3,0.02],[80.1,0.007],[79.2,0],[78.8,0.02],[78.5,0.06],[78.2,0.13],[77.9,0.19],[77.65,0.16],[77.4,0.12],[77.1,0.05],[76.8,0],[72.8,0],[72.55,0.12],[72.3,0.257],[72.05,0.34],[71.8,0.417],[71.55,0.44],[71.3,0.45],[71.05,0.42],[70.8,0.39],[70.5,0.4],[70.2,0.39],[69.95,0.34],[69.7,0.305],[69.45,0.36],[69.2,0.417],[68.95,0.47],[68.7,0.51],[68.45,0.53],[68.2,0.54],[67.85,0.52],[67.5,0.51],[67.15,0.55],[66.8,0.57],[66.4,0.53],[66.0,0.51],[65.8,0.46],[65.6,0.417],[65.35,0.5],[65.1,0.57],[64.85,0.59],[64.6,0.6],[64.35,0.55],[64.1,0.51],[63.9,0.62],[63.7,0.705],[63.45,0.64],[63.2,0.6],[62.95,0.7],[62.7,0.737],[62.45,0.62],[62.2,0.54],[62.0,0.68],[61.8,0.77],[61.55,0.8],[61.3,0.83],[61.05,0.87],[60.8,0.9],[60.55,0.88],[60.3,0.87],[60.1,1.09],[59.85,0.95],[59.6,0.87],[59.4,0.75],[59.2,0.67],[58.95,0.75],[58.7,0.8],[58.5,0.92],[58.3,1.03],[58.15,0.95],[58.0,0.9],[57.75,0.93],[57.5,0.92],[57.25,0.85],[57.0,0.8],[56.8,0.9],[56.6,0.99],[56.35,0.9],[56.1,0.86],[55.85,0.8],[55.6,0.77],[55.4,0.8],[55.2,0.8],[54.95,0.77],[54.7,0.78],[54.45,0.85],[54.2,0.9],[53.95,0.95],[53.7,0.99],[53.5,0.92],[53.3,0.88],[53.05,0.9],[52.8,0.88],[52.55,0.82],[52.3,0.77],[52.05,0.79],[51.8,0.78],[51.6,0.74],[51.4,0.705],[51.15,0.69],[50.9,0.68],[50.65,0.6],[50.4,0.54],[50.2,0.44],[50.0,0.32],[49.75,0.28],[49.5,0.25],[49.35,0.29],[49.2,0.32],[49.0,0.36],[48.8,0.385],[48.55,0.42],[48.3,0.48],[48.1,0.53],[47.9,0.57],[47.65,0.45],[47.4,0.32],[47.2,0.31],[47.0,0.29],[46.85,0.34],[46.7,0.4],[46.45,0.42],[46.2,0.45],[45.95,0.43],[45.7,0.42],[45.5,0.5],[45.3,0.57],[45.05,0.52],[44.8,0.51],[44.55,0.56],[44.3,0.6],[44.1,0.52],[43.9,0.45],[43.65,0.5],[43.4,0.51],[43.15,0.44],[42.9,0.39],[42.65,0.41],[42.4,0.45],[42.2,0.52],[42.0,0.57],[41.75,0.6],[41.5,0.66],[41.25,0.72],[41.0,0.77],[40.75,0.7],[40.5,0.64],[40.3,0.45],[40.1,0.5],[39.9,0.55],[39.65,0.46],[39.4,0.39],[39.15,0.55],[38.9,0.66],[38.65,0.6],[38.4,0.54],[38.15,0.5],[37.9,0.45],[37.7,0.4],[37.5,0.36],[37.25,0.42],[37.0,0.45],[36.75,0.4],[36.5,0.36],[36.25,0.45],[36.0,0.51],[35.8,0.58],[35.6,0.64],[35.35,0.55],[35.1,0.48],[34.85,0.55],[34.6,0.58],[34.4,0.53],[34.2,0.5],[33.95,0.42],[33.7,0.36],[33.45,0.45],[33.2,0.5],[32.95,0.55],[32.7,0.57],[32.45,0.55],[32.2,0.54],[31.95,0.6],[31.7,0.64],[31.5,0.6],[31.3,0.57],[31.05,0.68],[30.8,0.77],[30.6,0.82],[30.4,0.865],[30.25,0.78],[30.1,0.65],[29.85,0.58],[29.6,0.54],[29.35,0.58],[29.1,0.6],[28.85,0.55],[28.6,0.5],[28.4,0.53],[28.2,0.57],[27.95,0.54],[27.7,0.53],[27.45,0.6],[27.2,0.64],[26.95,0.56],[26.7,0.5],[26.45,0.54],[26.2,0.57],[26.0,0.55],[25.8,0.53],[25.55,0.58],[25.3,0.6],[25.05,0.59],[24.8,0.57],[24.55,0.66],[24.3,0.74],[24.05,0.7],[23.8,0.64],[23.55,0.57],[23.3,0.51],[23.1,0.58],[22.9,0.64],[22.65,0.62],[22.4,0.6],[22.15,0.56],[21.9,0.54],[21.65,0.58],[21.4,0.6],[21.2,0.58],[21.0,0.57],[20.75,0.55],[20.5,0.54],[20.25,0.6],[20.0,0.64],[19.75,0.7],[19.5,0.74],[19.35,0.6],[19.2,0.45],[19.0,0.36],[18.8,0.29],[18.6,0.21],[10.4,0.21],[10.1,0.08],[9.9,0.016],[9.7,0],[3.6,0]
];

const magsus = [
[80.8,57.1],[80.6,62],[80.4,68],[80.2,72.2],[79.95,75],[79.7,75.8],[79.45,75.2],[79.2,74.2],[78.8,70],[78.4,66.1],[78.1,61],[77.8,57.1],[77.45,57.5],[77.1,60.1],[76.8,64],[76.5,70.3],[76.25,79],[76.0,88.2],[75.7,91],[75.4,93.3],[75.15,90],[74.9,86.2],[74.65,91],[74.4,94.2],[74.1,95.5],[73.8,96.3],[73.5,96],[73.2,95],[72.85,92],[72.5,88.2],[72.35,70],[72.2,54.1],[71.85,51],[71.5,50.0],[71.15,48.5],[70.8,47.0],[70.6,52],[70.4,58.1],[70.1,66],[69.8,72.2],[69.55,70],[69.3,66.1],[69.1,58],[68.8,50],[68.65,44],[68.5,40],[68.1,38.5],[67.8,38.0],[67.3,37.5],[66.8,37],[66.45,39],[66.1,42],[65.9,46],[65.7,48.1],[65.45,46],[65.2,44],[64.9,37],[64.4,36.5],[63.9,36],[63.3,36.8],[62.6,37],[61.9,36.2],[61.3,36],[60.6,35.6],[60.0,35],[59.5,35.6],[59.0,36],[58.8,40],[58.6,43],[58.3,40],[58.0,38],[57.5,37],[57.0,36],[56.4,35],[55.7,34],[54.9,34.8],[54.1,35],[53.2,36],[52.2,37],[51.4,37.6],[50.6,38],[50.25,43],[49.9,50],[49.5,57],[49.1,62.1],[48.85,60],[48.6,58.1],[48.3,55],[48.0,52.1],[47.7,53.5],[47.4,55],[46.9,61],[46.4,66.1],[46.1,63.5],[45.8,61],[45.4,57],[45.0,54],[44.6,50],[44.2,46],[43.7,41],[43.2,38],[42.7,37],[42.3,36],[41.95,45],[41.6,54],[41.3,53.5],[41.0,53],[40.7,48],[40.4,44],[40.1,43],[39.8,42],[39.65,47],[39.5,51],[39.0,49],[38.5,48],[38.05,48],[37.6,48],[37.3,49.5],[37.0,51],[36.65,48.5],[36.3,46],[36.0,48.5],[35.7,51],[35.35,53],[35.0,55],[34.55,56],[34.1,57.1],[33.6,57.8],[33.1,58],[32.65,57.5],[32.2,57],[31.9,56],[31.6,55],[31.25,54],[30.9,53],[30.7,55],[30.5,59],[30.3,54],[30.0,50],[29.65,46],[29.3,43],[29.0,42.5],[28.7,42],[28.4,41.5],[28.1,42],[27.95,47],[27.8,53],[27.6,47],[27.4,42],[27.1,41.5],[26.8,42],[26.4,46],[26.0,51],[25.75,47],[25.5,44],[25.05,43],[24.6,42],[24.1,41.5],[23.6,41],[23.15,41],[22.7,41],[22.25,39],[21.8,37],[21.4,39],[21.0,41],[20.7,42],[20.4,43],[19.95,42.5],[19.5,42],[19.15,42],[18.8,42],[18.6,50],[18.5,57.1],[10.4,57.1],[10.3,80],[10.2,110.3],[10.0,107],[9.8,104],[9.65,110],[9.5,116],[9.35,112],[9.2,108],[9.1,114],[9.0,118.3],[8.8,112],[8.6,106],[8.35,114],[8.1,120.3],[7.8,121.5],[7.5,122.3],[7.15,123.5],[6.8,124.3],[6.5,125],[6.2,126.3],[6.0,125],[5.8,124],[5.5,127],[5.2,129.4],[4.85,130.5],[4.5,131.4],[4.35,131],[4.2,129.5],[4.05,124],[3.9,116],[3.85,100],[3.8,86.2]
];

// Heinrich event bands [older, younger] ka and their labels
const barsTop = [[60.8,58.4],[46.5,45.4],[39.4,38.3],[30.2,29.3],[24.4,23.5]];
const barsMid = [[60.6,58.0],[55.6,54.7],[48.5,47.5],[39.1,38.1],[30.8,29.8],[24.7,23.4]];
const barsLow = [[61.2,58.7],[48.3,46.6],[39.5,38.1],[31.1,30.0],[24.4,23.1]];
const hLabelsTop = [[59.9,'6'],[54.9,'5a'],[45.8,'5'],[38.7,'4'],[31.2,'3'],[24.1,'2']];
const hLabelsLow = [[59.9,'6'],[45.75,'5'],[38.5,'4'],[30.8,'3'],[23.75,'2']];

// tick labels
const ageLabels = [0, 10, 20, 30, 40, 50, 60, 70, 80];
const gispLabels = [-35, -40, -45];
const gulangLabels = [10, 20, 30, 40, 50];
const huluLabels = [-9, -8, -7, -6, -5, -4];
const carbLabels = [0, 5, 10, 15, 20];
const dolLabels = [0, 0.5, 1.0, 1.5];
const magLabels = [40, 80, 120];

// ---- scales ----
const x = d3.scaleLinear().domain([80.9, 0]).range([71, 634]);
const yA = d3.scaleLinear().domain([-35, -45]).range([93.3, 250.7]);
const yB = d3.scaleLinear().domain([10, 50]).range([210, 396]);
const yC = d3.scaleLinear().domain([-9, -4]).range([350.7, 522.7]);
const yD = d3.scaleLinear().domain([0, 20]).range([470, 654]);
const yE = d3.scaleLinear().domain([0, 1.5]).range([643.3, 799.3]);
const yF = d3.scaleLinear().domain([40, 120]).range([856.7, 724]);

const serif = "'Liberation Serif', 'DejaVu Serif', serif";
const cjk = "'Noto Sans CJK SC', sans-serif";

const svg = d3.select('body').append('svg')
  .attr('width', 700).attr('height', 928)
  .style('font-family', serif);

function drawSeries(data, y, color, width, opacity = 1) {
  const line = d3.line()
    .defined(d => d[1] !== null)
    .x(d => x(d[0]))
    .y(d => y(d[1]));
  svg.append('path')
    .datum(data)
    .attr('d', line)
    .attr('fill', 'none')
    .attr('stroke', color)
    .attr('stroke-width', width)
    .attr('stroke-opacity', opacity)
    .attr('stroke-linejoin', 'round');
}

drawSeries(gisp2, yA, '#1b9ad7', 1.4);
drawSeries(gulang, yB, '#e8222c', 1.2);
drawSeries(huluLight, yC, '#979a9a', 2);
drawSeries(huluDark, yC, '#3c4444', 2);
drawSeries(carbonate, yD, '#1b9ad7', 1.3);
drawSeries(dolomiteRaw, yE, '#f09a45', 1.1, 0.9);
drawSeries(dolomiteSmooth, yE, '#e84531', 1.5);
drawSeries(magsus, yF, '#4a5252', 1.4);

// grey bands (drawn over the lines, semi-transparent)
function drawBars(bars, y0, y1) {
  svg.append('g').selectAll('rect')
    .data(bars)
    .join('rect')
    .attr('x', d => x(d[0]))
    .attr('width', d => x(d[1]) - x(d[0]))
    .attr('y', y0)
    .attr('height', y1 - y0)
    .attr('fill', '#9a9f9f')
    .attr('opacity', 0.6);
}
drawBars(barsTop, 63, 228);
drawBars(barsMid, 264, 528);
drawBars(barsLow, 555, 875);

function drawHLabels(labels, yPos) {
  labels.forEach(([ka, sub]) => {
    const t = svg.append('text')
      .attr('x', x(ka)).attr('y', yPos)
      .attr('text-anchor', 'middle')
      .attr('font-size', 14);
    t.append('tspan').text('H');
    t.append('tspan').attr('font-size', 9).attr('dy', 3).text(sub);
  });
}
drawHLabels(hLabelsTop, 250);
drawHLabels(hLabelsLow, 546);

// frame
svg.append('rect')
  .attr('x', 71).attr('y', 53)
  .attr('width', 634 - 71).attr('height', 882 - 53)
  .attr('fill', 'none').attr('stroke', '#111').attr('stroke-width', 1.2);

// ---- axes ----
const near = (a, b) => Math.abs(a - b) < 1e-6;

function styleAxis(g, labels, minorLen, sign) {
  g.select('.domain').remove();
  g.selectAll('.tick line').attr('stroke', '#111').attr('stroke-width', 1.1);
  g.selectAll('.tick')
    .filter(d => !labels.some(l => near(l, d)))
    .select('line')
    .attr(sign.attr, sign.dir * minorLen);
  g.selectAll('.tick text')
    .attr('font-family', serif)
    .attr('font-weight', 'bold')
    .attr('font-size', 13)
    .attr('fill', '#111');
}

function fmtFor(labels, f) {
  return d => labels.some(l => near(l, d)) ? f(d) : '';
}

const ageTicks = d3.range(0, 81, 2);
svg.append('g').attr('transform', 'translate(0,53)')
  .call(d3.axisTop(x).tickValues(ageTicks).tickSize(6).tickPadding(3)
    .tickFormat(fmtFor(ageLabels, d => d)))
  .call(g => styleAxis(g, ageLabels, 3.5, { attr: 'y2', dir: -1 }));
svg.append('g').attr('transform', 'translate(0,882)')
  .call(d3.axisBottom(x).tickValues(ageTicks).tickSize(6).tickPadding(3)
    .tickFormat(fmtFor(ageLabels, d => d)))
  .call(g => styleAxis(g, ageLabels, 3.5, { attr: 'y2', dir: 1 }));

function leftAxis(y, ticks, labels, f) {
  svg.append('g').attr('transform', 'translate(71,0)')
    .call(d3.axisLeft(y).tickValues(ticks).tickSize(6).tickPadding(3)
      .tickFormat(fmtFor(labels, f)))
    .call(g => styleAxis(g, labels, 3.5, { attr: 'x2', dir: -1 }));
}
function rightAxis(y, ticks, labels, f) {
  svg.append('g').attr('transform', 'translate(634,0)')
    .call(d3.axisRight(y).tickValues(ticks).tickSize(6).tickPadding(3)
      .tickFormat(fmtFor(labels, f)))
    .call(g => styleAxis(g, labels, 3.5, { attr: 'x2', dir: 1 }));
}

leftAxis(yA, d3.range(-33, -45.5, -1), gispLabels, d => '\u2212' + Math.abs(d));
leftAxis(yC, d3.range(-9.5, -3.9, 0.5), huluLabels, d => '-' + Math.abs(d));
leftAxis(yE, d3.range(-0.2, 1.75, 0.1).map(d => Math.round(d * 10) / 10), dolLabels, d => d === 0 ? '0' : d.toFixed(1));

rightAxis(yB, d3.range(10, 51, 2), gulangLabels, d => d);
rightAxis(yD, d3.range(-2, 21, 1), carbLabels, d => d);
rightAxis(yF, d3.range(40, 141, 20), magLabels, d => d);

// ---- panel letters ----
const panelLetters = [['(a)', 101, 90], ['(b)', 100, 275], ['(c)', 100, 357], ['(d)', 100, 465], ['(e)', 104, 632], ['(f)', 107, 748]];
panelLetters.forEach(([t, px, py]) => {
  svg.append('text').attr('x', px).attr('y', py)
    .attr('text-anchor', 'middle')
    .attr('font-size', 14).attr('font-weight', 'bold')
    .text(t);
});

// ---- axis titles ----
function title(tx, ty, rot, parts, size = 15) {
  const t = svg.append('text')
    .attr('transform', `translate(${tx},${ty}) rotate(${rot})`)
    .attr('text-anchor', 'middle')
    .attr('dominant-baseline', 'central')
    .attr('font-size', size)
    .attr('font-weight', 'bold');
  parts.forEach(p => {
    const s = t.append('tspan').text(p.t);
    if (p.cjk) s.attr('font-family', cjk).attr('font-weight', 500);
    if (p.sup) s.attr('font-size', size * 0.6).attr('dy', -size * 0.4);
    if (p.back) s.attr('dy', size * 0.4);
  });
}

title(352, 13, 0, [{ t: '年代', cjk: true }, { t: '(ka)' }]);
title(352, 916, 0, [{ t: '年代', cjk: true }, { t: '(ka)' }]);

title(16, 153, -90, [
  { t: 'GISP2' }, { t: '冰芯', cjk: true }, { t: 'δ' }, { t: '18', sup: true },
  { t: 'O(‰, VSMOW)', back: true }
], 16);
title(16, 437, -90, [
  { t: '葫芦洞石笋', cjk: true }, { t: 'δ' }, { t: '18', sup: true },
  { t: 'O(‰, VPDB)', back: true }
], 16);
title(16, 730, -90, [{ t: '白云石含量', cjk: true }, { t: '(%)' }], 16);

title(684, 305, -90, [{ t: '古浪剖面中值粒径', cjk: true }, { t: '(μm)' }], 16);
title(684, 556, -90, [{ t: '碳酸盐含量', cjk: true }, { t: '(%)' }], 16);
title(684, 762, -90, [
  { t: '质量磁化率', cjk: true }, { t: '(×10' }, { t: '−8', sup: true },
  { t: ' m', back: true }, { t: '3', sup: true }, { t: '/kg)', back: true }
], 15);
</script>
</body>
</html>
